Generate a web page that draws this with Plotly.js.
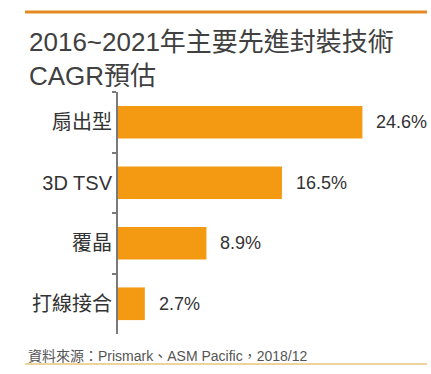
<!DOCTYPE html>
<html><head><meta charset="utf-8">
<script src="https://cdn.plot.ly/plotly-3.0.1.min.js"></script>
<style>html,body{margin:0;padding:0;background:#fff;}</style>
</head><body>
<div id="chart" style="width:431px;height:374px;"></div>
<script>
const categories = ['扇出型', '3D TSV', '覆晶', '打線接合'];
const cagr = [24.6, 16.5, 8.9, 2.7];
const valueLabels = ['24.6%', '16.5%', '8.9%', '2.7%'];
const titleText = '2016~2021年主要先進封裝技術<br>CAGR預估';
const sourceText = '資料來源：Prismark、ASM Pacific，2018/12';

const W = 431, H = 374;
const M = {l: 118, r: 4, t: 92, b: 40};
const PW = W - M.l - M.r, PH = H - M.t - M.b;
const px = x => (x - M.l) / PW;
const py = y => (H - M.b - y) / PH;

const FONT = 'Liberation Sans, Arial, "Noto Sans CJK TC", sans-serif';

const trace = {
  type: 'bar',
  orientation: 'h',
  y: categories,
  x: cagr,
  width: 0.54,
  marker: {color: '#F39A12'},
  hoverinfo: 'none'
};

const annotations = categories.map((c, i) => ({
  x: cagr[i], y: c, xref: 'x', yref: 'y',
  text: valueLabels[i], showarrow: false,
  xanchor: 'left', yanchor: 'middle', xshift: 12,
  font: {family: FONT, size: 18, color: '#333333'}
}));
annotations.push({
  x: px(27), y: py(25), xref: 'paper', yref: 'paper',
  text: titleText, showarrow: false, align: 'left',
  xanchor: 'left', yanchor: 'top',
  font: {family: FONT, size: 26, color: '#404040'}
});
annotations.push({
  x: px(26), y: py(356), xref: 'paper', yref: 'paper',
  text: sourceText, showarrow: false, align: 'left',
  xanchor: 'left', yanchor: 'middle',
  font: {family: FONT, size: 14, color: '#555555'}
});

const layout = {
  width: W, height: H,
  margin: M,
  paper_bgcolor: '#ffffff', plot_bgcolor: '#ffffff',
  showlegend: false,
  xaxis: {range: [0, 31.1], visible: false, fixedrange: true},
  yaxis: {
    type: 'category', categoryorder: 'array', categoryarray: categories,
    autorange: 'reversed',
    showline: true, linecolor: '#7a7a7a', linewidth: 2,
    ticks: 'outside', tickson: 'boundaries', ticklen: 4, tickwidth: 2, tickcolor: '#7a7a7a',
    showgrid: false, zeroline: false,
    tickfont: {family: FONT, size: 20, color: '#333333'},
    ticklabelstandoff: 0
  },
  shapes: [
    {type: 'line', xref: 'paper', yref: 'paper', x0: px(25), x1: px(427), y0: py(12), y1: py(12),
     line: {color: '#E38A23', width: 3}},
    {type: 'line', xref: 'paper', yref: 'paper', x0: px(25), x1: px(427), y0: py(364), y1: py(364),
     line: {color: '#E8C47A', width: 1.5}}
  ],
  annotations: annotations
};

Plotly.newPlot('chart', [trace], layout, {displayModeBar: false, staticPlot: true});
</script>
</body></html>
